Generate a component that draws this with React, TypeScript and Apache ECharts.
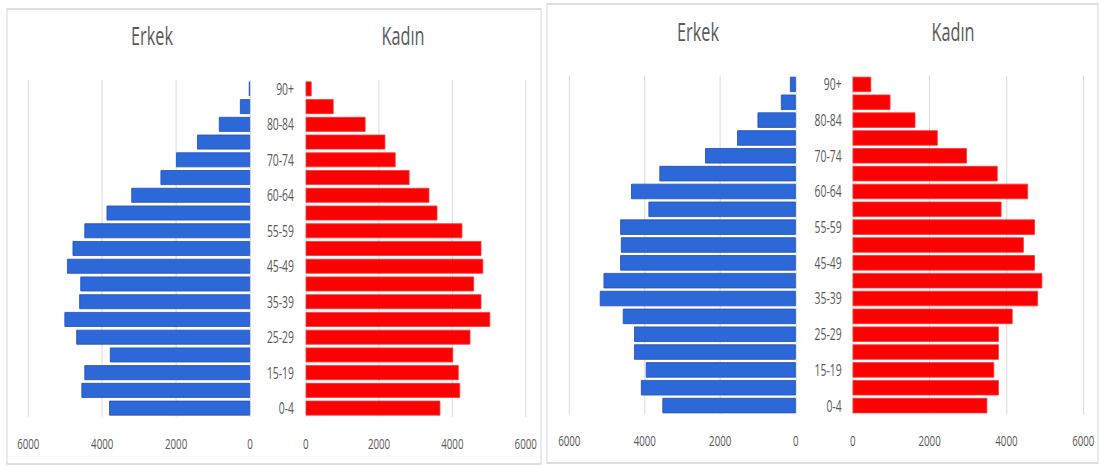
import React, { useEffect, useRef } from "react";
import * as echarts from "echarts";

// Age groups, bottom (index 0) to top
const ageGroups = [
  "0-4", "5-14", "15-19", "20-24", "25-29", "30-34", "35-39", "40-44", "45-49", "50-54",
  "55-59", "55-64", "60-64", "65-69", "70-74", "75-79", "80-84", "85-89", "90+",
];

const leftMale = [3810, 4560, 4480, 3790, 4700, 5020, 4620, 4590, 4950, 4800, 4480, 3880, 3210, 2420, 2000, 1430, 840, 270, 30];
const leftFemale = [3670, 4210, 4170, 4020, 4490, 5030, 4790, 4590, 4840, 4790, 4270, 3590, 3370, 2830, 2450, 2170, 1630, 760, 160];
const rightMale = [3530, 4100, 3970, 4280, 4280, 4580, 5190, 5090, 4650, 4630, 4650, 3900, 4360, 3610, 2400, 1550, 1010, 390, 150];
const rightFemale = [3500, 3800, 3680, 3800, 3800, 4160, 4820, 4930, 4740, 4450, 4740, 3870, 4560, 3770, 2970, 2210, 1630, 980, 480];

const maleTitle = "Erkek";
const femaleTitle = "Kadın";
const axisMin = 0;
const axisMax = 6000;
const axisStep = 2000;

const W = 1101;
const H = 467;
const INNER_W = 1694;
const S = W / INNER_W;
const X = (v: number) => v / S;

const FONT = "'Open Sans', 'Noto Sans', 'Liberation Sans', sans-serif";
const TEXT = "#595959";
const GRID = "#d9d9d9";
const BLUE = "#2d68d8";
const BLUE_EDGE = "#2350b4";
const RED = "#ff0000";
const RED_EDGE = "#f03a3a";

export default function App() {
  const ref = useRef<HTMLDivElement>(null);

  useEffect(() => {
    if (!ref.current) return;
    const chart = echarts.init(ref.current, undefined, {
      renderer: "svg",
      width: INNER_W,
      height: H,
    });

    const grids = [
      { left: X(28.3), width: X(250) - X(28.3), top: 80, height: 337 },
      { left: X(305.7), width: X(525.7) - X(305.7), top: 80, height: 337 },
      { left: X(569.3), width: X(795.7) - X(569.3), top: 75.5, height: 339 },
      { left: X(852.7), width: X(1083.3) - X(852.7), top: 75.5, height: 339 },
    ];

    const valueAxis = (gridIndex: number, inverse: boolean, margin: number) => ({
      type: "value",
      gridIndex,
      inverse,
      min: axisMin,
      max: axisMax,
      interval: axisStep,
      axisLine: { show: false },
      axisTick: { show: false },
      splitLine: { show: true, lineStyle: { color: GRID, width: 1 / S } },
      axisLabel: {
        color: TEXT,
        fontSize: 15,
        fontFamily: FONT,
        margin,
        formatter: (v: number) => String(v),
      },
    });

    const catAxis = (gridIndex: number, showLabel: boolean, position: string, margin: number) => ({
      type: "category",
      gridIndex,
      position,
      data: ageGroups,
      axisLine: { show: false },
      axisTick: { show: false },
      axisLabel: {
        show: showLabel,
        interval: 1,
        color: TEXT,
        fontSize: 16,
        fontFamily: FONT,
        margin,
      },
    });

    const bar = (idx: number, data: number[], color: string, edge: string, gap: string) => ({
      type: "bar",
      xAxisIndex: idx,
      yAxisIndex: idx,
      data,
      barCategoryGap: gap,
      itemStyle: { color, borderColor: edge, borderWidth: 1 },
      silent: true,
    });

    const title = (text: string, x: number, y: number) => ({
      type: "text",
      x: X(x),
      y,
      style: {
        text,
        fill: TEXT,
        fontSize: 25,
        fontFamily: FONT,
        textAlign: "center",
        textVerticalAlign: "middle",
        align: "center",
        verticalAlign: "middle",
      },
    });

    const frame = (x1: number, y1: number, x2: number, y2: number) => ({
      type: "rect",
      shape: { x: X(x1), y: y1, width: X(x2) - X(x1), height: y2 - y1 },
      style: { fill: "none", stroke: "#d4d4d4", lineWidth: 1.4 },
      silent: true,
    });

    chart.setOption({
      animation: false,
      backgroundColor: "#ffffff",
      grid: grids,
      xAxis: [
        valueAxis(0, true, 19),
        valueAxis(1, false, 19),
        valueAxis(2, true, 18),
        valueAxis(3, false, 18),
      ],
      yAxis: [
        catAxis(0, false, "right", 8),
        catAxis(1, true, "left", 18),
        catAxis(2, false, "right", 8),
        catAxis(3, true, "left", 17),
      ],
      series: [
        bar(0, leftMale, BLUE, BLUE_EDGE, "15%"),
        bar(1, leftFemale, RED, RED_EDGE, "15%"),
        bar(2, rightMale, BLUE, BLUE_EDGE, "12.5%"),
        bar(3, rightFemale, RED, RED_EDGE, "12.5%"),
      ],
      graphic: [
        frame(7, 9, 541, 464),
        frame(547, 4, 1098, 463),
        title(maleTitle, 152, 35),
        title(femaleTitle, 403, 35),
        title(maleTitle, 698, 31),
        title(femaleTitle, 953, 31),
      ],
    });

    return () => chart.dispose();
  }, []);

  return (
    <div
      style={{
        position: "absolute",
        left: 0,
        top: 0,
        width: W,
        height: H,
        overflow: "hidden",
        background: "#ffffff",
      }}
    >
      <div
        ref={ref}
        style={{
          width: INNER_W,
          height: H,
          transform: `scaleX(${S})`,
          transformOrigin: "0 0",
        }}
      />
    </div>
  );
}
